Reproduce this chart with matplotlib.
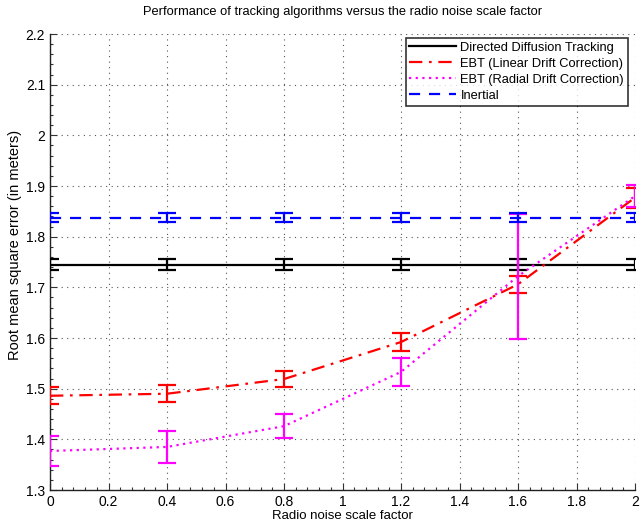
import matplotlib
matplotlib.use("Agg")
import matplotlib.pyplot as plt
from matplotlib.ticker import MultipleLocator

plt.rcParams['font.family'] = ['Liberation Sans', 'DejaVu Sans']

x = [0.0, 0.4, 0.8, 1.2, 1.6, 2.0]

ddt_mean = [1.745, 1.745, 1.745, 1.745, 1.745, 1.745]
ddt_err = [0.010, 0.010, 0.010, 0.010, 0.010, 0.010]

lin_mean = [1.486, 1.490, 1.519, 1.592, 1.706, 1.877]
lin_err = [0.017, 0.017, 0.016, 0.017, 0.017, 0.020]

rad_mean = [1.377, 1.385, 1.426, 1.533, 1.722, 1.880]
rad_err = [0.030, 0.031, 0.024, 0.027, 0.123, 0.022]

ine_mean = [1.837, 1.837, 1.837, 1.837, 1.837, 1.837]
ine_err = [0.009, 0.009, 0.009, 0.009, 0.009, 0.009]

labels = ['Directed Diffusion Tracking', 'EBT (Linear Drift Correction)',
          'EBT (Radial Drift Correction)', 'Inertial']

fig = plt.figure(figsize=(6.4, 5.23), dpi=100)
ax = fig.add_axes([50/640, 33/523, 585/640, 456/523])

series = [
    (ddt_mean, ddt_err, 'black', '-'),
    (lin_mean, lin_err, 'red', (0, (6, 3, 1.2, 3))),
    (rad_mean, rad_err, 'magenta', (0, (1, 2))),
    (ine_mean, ine_err, 'blue', (0, (5, 4))),
]
handles = []
for (m, e, c, ls), lab in zip(series, labels):
    ln, = ax.plot(x, m, color=c, linestyle=ls, lw=1.6, label=lab, zorder=3)
    ax.errorbar(x, m, yerr=e, fmt='none', ecolor=c, elinewidth=1.6,
                capsize=6.5, capthick=1.6, zorder=3)
    handles.append(ln)

ax.set_xlim(0, 2)
ax.set_ylim(1.3, 2.2)
ax.xaxis.set_major_locator(MultipleLocator(0.2))
ax.yaxis.set_major_locator(MultipleLocator(0.1))
ax.yaxis.set_minor_locator(MultipleLocator(0.02))
ax.xaxis.set_minor_locator(MultipleLocator(0.04))
ax.set_xticklabels([f'{v:g}' for v in ax.get_xticks()])
ax.set_yticklabels([f'{v:g}' for v in ax.get_yticks()])
ax.tick_params(which='both', direction='in', labelsize=10, width=0.8, color='#333333')
ax.tick_params(which='major', length=5)
ax.tick_params(which='minor', length=2.5)
ax.grid(True, which='major', linestyle=(0, (1, 4)), color='#555555', linewidth=0.8)
for s in ['top', 'right']:
    ax.spines[s].set_visible(False)
for s in ['left', 'bottom']:
    ax.spines[s].set_linewidth(1.0)
    ax.spines[s].set_color('#222222')

ax.set_xlabel('Radio noise scale factor', fontsize=9.5, labelpad=1)
ax.set_ylabel('Root mean square error (in meters)', fontsize=10.5)
ax.yaxis.set_label_coords(-0.048, 0.537)
ax.set_title('Performance of tracking algorithms versus the radio noise scale factor',
             fontsize=9.3, pad=14)

leg = ax.legend(handles=handles, loc='upper right', fontsize=9.3, frameon=True,
                fancybox=False, edgecolor='black', handlelength=3.6,
                borderpad=0.3, labelspacing=0.3, handletextpad=0.35,
                borderaxespad=0.0, bbox_to_anchor=(0.988, 0.991))
leg.get_frame().set_linewidth(1.2)

fig.savefig('out.png', dpi=100)
